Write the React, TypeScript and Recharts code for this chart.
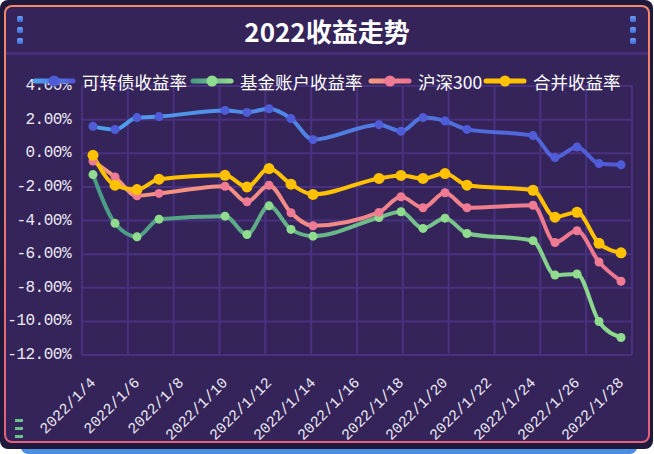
import { LineChart, Line, XAxis, YAxis, CartesianGrid } from 'recharts';

// trading-day returns (%), weekends are null
const dates = [
  '2022/1/4', '2022/1/5', '2022/1/6', '2022/1/7', '2022/1/8', '2022/1/9', '2022/1/10',
  '2022/1/11', '2022/1/12', '2022/1/13', '2022/1/14', '2022/1/15', '2022/1/16', '2022/1/17',
  '2022/1/18', '2022/1/19', '2022/1/20', '2022/1/21', '2022/1/22', '2022/1/23', '2022/1/24',
  '2022/1/25', '2022/1/26', '2022/1/27', '2022/1/28',
];
const convertible = [1.6, 1.41, 2.12, 2.18, null, null, 2.55, 2.43, 2.65, 2.06, 0.81, null, null, 1.7, 1.31, 2.12, 1.92, 1.42, null, null, 1.05, -0.26, 0.37, -0.61, -0.69];
const fundAccount = [-1.27, -4.17, -4.97, -3.92, null, null, -3.74, -4.83, -3.13, -4.53, -4.93, null, null, -3.82, -3.48, -4.47, -3.86, -4.77, null, null, -5.2, -7.24, -7.18, -10.01, -10.96];
const hs300 = [-0.46, -1.41, -2.53, -2.39, null, null, -1.96, -2.89, -1.9, -3.54, -4.31, null, null, -3.52, -2.59, -3.24, -2.35, -3.24, null, null, -3.09, -5.31, -4.61, -6.47, -7.61];
const combined = [-0.12, -1.9, -2.16, -1.54, null, null, -1.31, -2.0, -0.91, -1.84, -2.45, null, null, -1.5, -1.32, -1.5, -1.21, -1.9, null, null, -2.2, -3.8, -3.51, -5.36, -5.92];

const yTicks = [-12, -10, -8, -6, -4, -2, 0, 2, 4];
const gridTicks = [0, 2, 4, 6, 8, 10, 12, 14, 16, 18, 20, 22, 24];

const chartData = dates.map((date, i) => ({
  date,
  convertible: convertible[i],
  fundAccount: fundAccount[i],
  hs300: hs300[i],
  combined: combined[i],
}));

const series = [
  { key: 'convertible', name: '可转债收益率', id: 'gBlue', from: '#4fa0ee', to: '#5159d6', dot: '#4f5cd8', r: 4.5, legendX: 32 },
  { key: 'fundAccount', name: '基金账户收益率', id: 'gGreen', from: '#4a9a86', to: '#90da8e', dot: '#8fdc8e', r: 4.5, legendX: 190 },
  { key: 'hs300', name: '沪深300', id: 'gPink', from: '#f6977f', to: '#ee7592', dot: '#ef7a93', r: 4.5, legendX: 368 },
  { key: 'combined', name: '合并收益率', id: 'gYellow', from: '#ffc100', to: '#ffc100', dot: '#ffc100', r: 5.5, legendX: 483 },
];

const MONO = '"Liberation Mono", "DejaVu Sans Mono", monospace';
const CJK = '"Noto Sans CJK SC", "Noto Sans", sans-serif';
const GRID = '#48327f';

// eslint-disable-next-line @typescript-eslint/no-explicit-any
function DateTick(props: any) {
  const { x, payload } = props;
  const ax = x + 1;
  const ay = 381;
  return (
    <text
      x={ax}
      y={ay}
      transform={`rotate(-45, ${ax}, ${ay})`}
      textAnchor="end"
      dominantBaseline="central"
      fill="#ecebf5"
      fontSize={15}
      fontFamily={MONO}
    >
      {payload.value}
    </text>
  );
}

// eslint-disable-next-line @typescript-eslint/no-explicit-any
function PercentTick(props: any) {
  const { y, payload } = props;
  return (
    <text x={71} y={y} textAnchor="end" dominantBaseline="central" fill="#ecebf5" fontSize={16} letterSpacing={-0.5} fontFamily={MONO}>
      {payload.value.toFixed(2) + '%'}
    </text>
  );
}

function LegendIcon({ from, to, dot }: { from: string; to: string; dot: string }) {
  const gid = 'lg' + dot.slice(1);
  return (
    <svg width={44} height={14} style={{ display: 'block' }}>
      <defs>
        <linearGradient id={gid} gradientUnits="userSpaceOnUse" x1="3" y1="0" x2="41" y2="0">
          <stop offset="0%" stopColor={from} />
          <stop offset="100%" stopColor={to} />
        </linearGradient>
      </defs>
      <line x1={3} y1={7} x2={41} y2={7} stroke={`url(#${gid})`} strokeWidth={5} strokeLinecap="round" />
      <circle cx={22} cy={7} r={5.5} fill={dot} />
    </svg>
  );
}

function Squares({ left }: { left: number }) {
  return (
    <>
      {[16, 27, 38].map((t) => (
        <div
          key={t}
          style={{
            position: 'absolute', left, top: t, width: 6, height: 6, borderRadius: 1.5,
            background: 'linear-gradient(180deg, #6a9cf4, #3f6bd6)',
          }}
        />
      ))}
    </>
  );
}

export default function App() {
  return (
    <div style={{ position: 'fixed', left: 0, top: 0, width: 654, height: 454, background: '#ffffff', overflow: 'hidden' }}>
      {/* blue strip under the card */}
      <div style={{ position: 'absolute', left: 21, top: 438, width: 616, height: 16, borderRadius: 7, background: '#4b8fe2' }} />
      {/* dark outer card */}
      <div style={{ position: 'absolute', left: 0, top: 0, width: 653, height: 449, borderRadius: 8, background: '#1f1a3c' }} />
      {/* inner panel with gradient border */}
      <div
        style={{
          position: 'absolute', left: 4, top: 5, width: 642, height: 434, borderRadius: 8,
          border: '2px solid transparent',
          background: 'linear-gradient(#35245a, #35245a) padding-box, linear-gradient(180deg, #f3886c, #e4607f) border-box',
        }}
      />
      {/* divider under title */}
      <div style={{ position: 'absolute', left: 6, top: 52, width: 642, height: 3, background: '#46307c' }} />
      <div
        style={{
          position: 'absolute', left: 0, top: 13, width: 654, textAlign: 'center', color: '#ffffff',
          fontFamily: CJK, fontWeight: 700, fontSize: 26, lineHeight: '36px',
        }}
      >
        2022收益走势
      </div>
      <Squares left={17} />
      <Squares left={630} />
      {[419, 427, 435].map((t) => (
        <div key={t} style={{ position: 'absolute', left: 15, top: t, width: 8, height: 3, background: '#6cc08e' }} />
      ))}

      <div style={{ position: 'absolute', left: 0, top: 0 }}>
        <LineChart width={654} height={454} data={chartData} margin={{ top: 86, right: 22, bottom: 69, left: 12 }}>
          <defs>
            {series.map((s) => (
              <linearGradient key={s.id} id={s.id} x1="0" y1="0" x2="1" y2="0">
                <stop offset="0%" stopColor={s.from} />
                <stop offset="100%" stopColor={s.to} />
              </linearGradient>
            ))}
          </defs>
          <CartesianGrid xAxisId="grid" stroke={GRID} strokeWidth={2} />
          <XAxis
            dataKey="date"
            interval={1}
            padding={{ left: 11, right: 11 }}
            height={30}
            tickLine={false}
            axisLine={false}
            tickSize={0}
            tick={<DateTick />}
          />
          <XAxis xAxisId="grid" type="number" domain={[0, 25]} ticks={gridTicks} allowDataOverflow hide />
          <YAxis
            domain={[-12, 4]}
            ticks={yTicks}
            width={70}
            tickLine={false}
            axisLine={false}
            tickSize={0}
            tick={<PercentTick />}
          />
          {series.map((s) => (
            <Line
              key={s.key}
              type="monotone"
              dataKey={s.key}
              name={s.name}
              stroke={`url(#${s.id})`}
              strokeWidth={4}
              connectNulls
              dot={{ r: s.r, fill: s.dot, stroke: s.dot, strokeWidth: 0 }}
              activeDot={false}
              isAnimationActive={false}
            />
          ))}
        </LineChart>
      </div>

      {/* legend */}
      {series.map((s) => (
        <div
          key={s.key}
          style={{
            position: 'absolute', left: s.legendX, top: 69, height: 24, display: 'flex', alignItems: 'center',
            color: '#ffffff', fontFamily: CJK, fontSize: 17.5, whiteSpace: 'nowrap',
          }}
        >
          <LegendIcon from={s.from} to={s.to} dot={s.dot} />
          <span style={{ marginLeft: 6 }}>{s.name}</span>
        </div>
      ))}
    </div>
  );
}
